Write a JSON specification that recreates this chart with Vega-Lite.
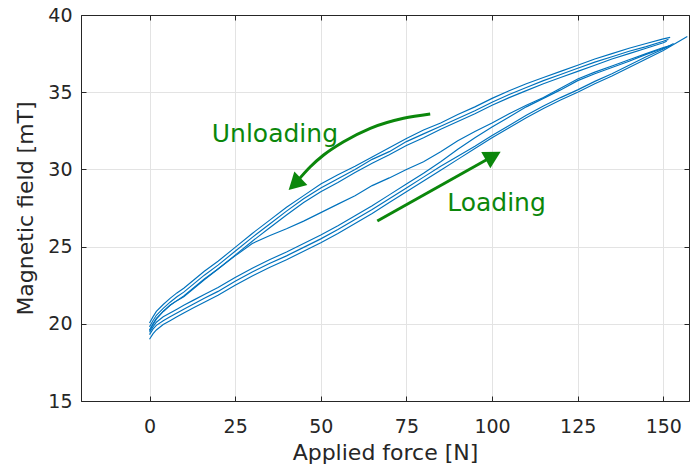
{
  "$schema": "https://vega.github.io/schema/vega-lite/v6.json",
  "width": 608,
  "height": 386,
  "autosize": "none",
  "padding": {"left": 81, "top": 15, "right": 2, "bottom": 69},
  "background": "white",
  "config": {
    "font": "DejaVu Sans",
    "view": {"stroke": "#262626", "strokeWidth": 1},
    "axis": {
      "labelFont": "DejaVu Sans",
      "titleFont": "DejaVu Sans",
      "labelFontSize": 19,
      "titleFontSize": 22,
      "titleFontWeight": "normal",
      "labelColor": "#262626",
      "titleColor": "#262626",
      "domainColor": "#262626",
      "tickColor": "#262626",
      "gridColor": "#e3e3e3",
      "tickSize": -5
    }
  },
  "datasets": {
    "curves": [
      {"s":"U1","F":0,"B":20.05},{"s":"U1","F":1,"B":20.45},{"s":"U1","F":2,"B":20.8},{"s":"U1","F":4,"B":21.25},{"s":"U1","F":6,"B":21.65},{"s":"U1","F":8,"B":22.0},{"s":"U1","F":10,"B":22.3},{"s":"U1","F":13,"B":22.85},{"s":"U1","F":16,"B":23.4},{"s":"U1","F":20,"B":24.05},{"s":"U1","F":25,"B":24.95},{"s":"U1","F":30,"B":25.85},{"s":"U1","F":35,"B":26.7},{"s":"U1","F":40,"B":27.55},{"s":"U1","F":45,"B":28.3},{"s":"U1","F":50,"B":29.05},{"s":"U1","F":55,"B":29.65},{"s":"U1","F":60,"B":30.2},{"s":"U1","F":65,"B":30.8},{"s":"U1","F":70,"B":31.4},{"s":"U1","F":75,"B":32.0},{"s":"U1","F":80,"B":32.55},{"s":"U1","F":85,"B":33.0},{"s":"U1","F":90,"B":33.55},{"s":"U1","F":95,"B":34.05},{"s":"U1","F":100,"B":34.6},{"s":"U1","F":105,"B":35.1},{"s":"U1","F":110,"B":35.55},{"s":"U1","F":115,"B":35.95},{"s":"U1","F":120,"B":36.35},{"s":"U1","F":125,"B":36.75},{"s":"U1","F":130,"B":37.15},{"s":"U1","F":135,"B":37.5},{"s":"U1","F":140,"B":37.85},{"s":"U1","F":145,"B":38.15},{"s":"U1","F":150,"B":38.45},{"s":"U1","F":152,"B":38.55},
      {"s":"U2","F":0,"B":19.8},{"s":"U2","F":1,"B":20.2},{"s":"U2","F":2,"B":20.55},{"s":"U2","F":4,"B":21.0},{"s":"U2","F":6,"B":21.4},{"s":"U2","F":8,"B":21.75},{"s":"U2","F":10,"B":22.05},{"s":"U2","F":13,"B":22.6},{"s":"U2","F":16,"B":23.15},{"s":"U2","F":20,"B":23.8},{"s":"U2","F":25,"B":24.7},{"s":"U2","F":30,"B":25.6},{"s":"U2","F":35,"B":26.45},{"s":"U2","F":40,"B":27.3},{"s":"U2","F":45,"B":28.1},{"s":"U2","F":50,"B":28.8},{"s":"U2","F":55,"B":29.4},{"s":"U2","F":60,"B":30.0},{"s":"U2","F":65,"B":30.65},{"s":"U2","F":70,"B":31.15},{"s":"U2","F":75,"B":31.8},{"s":"U2","F":80,"B":32.3},{"s":"U2","F":85,"B":32.8},{"s":"U2","F":90,"B":33.3},{"s":"U2","F":95,"B":33.8},{"s":"U2","F":100,"B":34.35},{"s":"U2","F":105,"B":34.85},{"s":"U2","F":110,"B":35.3},{"s":"U2","F":115,"B":35.75},{"s":"U2","F":120,"B":36.15},{"s":"U2","F":125,"B":36.55},{"s":"U2","F":130,"B":36.95},{"s":"U2","F":135,"B":37.3},{"s":"U2","F":140,"B":37.65},{"s":"U2","F":145,"B":37.95},{"s":"U2","F":150,"B":38.3},{"s":"U2","F":151.5,"B":38.42},
      {"s":"U3","F":0,"B":19.55},{"s":"U3","F":1,"B":19.95},{"s":"U3","F":2,"B":20.3},{"s":"U3","F":4,"B":20.8},{"s":"U3","F":6,"B":21.2},{"s":"U3","F":8,"B":21.5},{"s":"U3","F":10,"B":21.75},{"s":"U3","F":13,"B":22.3},{"s":"U3","F":16,"B":22.85},{"s":"U3","F":20,"B":23.55},{"s":"U3","F":25,"B":24.45},{"s":"U3","F":30,"B":25.35},{"s":"U3","F":35,"B":26.2},{"s":"U3","F":40,"B":27.05},{"s":"U3","F":45,"B":27.85},{"s":"U3","F":50,"B":28.55},{"s":"U3","F":55,"B":29.15},{"s":"U3","F":60,"B":29.8},{"s":"U3","F":65,"B":30.4},{"s":"U3","F":70,"B":30.95},{"s":"U3","F":75,"B":31.55},{"s":"U3","F":80,"B":32.05},{"s":"U3","F":85,"B":32.6},{"s":"U3","F":90,"B":33.1},{"s":"U3","F":95,"B":33.6},{"s":"U3","F":100,"B":34.15},{"s":"U3","F":105,"B":34.65},{"s":"U3","F":110,"B":35.1},{"s":"U3","F":115,"B":35.55},{"s":"U3","F":120,"B":35.95},{"s":"U3","F":125,"B":36.35},{"s":"U3","F":130,"B":36.75},{"s":"U3","F":135,"B":37.15},{"s":"U3","F":140,"B":37.5},{"s":"U3","F":145,"B":37.85},{"s":"U3","F":150,"B":38.2},{"s":"U3","F":151,"B":38.3},
      {"s":"M","F":0,"B":19.6},{"s":"M","F":1,"B":20.0},{"s":"M","F":2,"B":20.35},{"s":"M","F":4,"B":20.8},{"s":"M","F":6,"B":21.2},{"s":"M","F":8,"B":21.5},{"s":"M","F":10,"B":21.8},{"s":"M","F":13,"B":22.35},{"s":"M","F":16,"B":22.9},{"s":"M","F":20,"B":23.55},{"s":"M","F":25,"B":24.4},{"s":"M","F":30,"B":25.2},{"s":"M","F":35,"B":25.7},{"s":"M","F":40,"B":26.15},{"s":"M","F":45,"B":26.65},{"s":"M","F":50,"B":27.2},{"s":"M","F":55,"B":27.75},{"s":"M","F":60,"B":28.3},{"s":"M","F":65,"B":28.95},{"s":"M","F":70,"B":29.45},{"s":"M","F":75,"B":30.0},{"s":"M","F":80,"B":30.5},{"s":"M","F":85,"B":31.15},{"s":"M","F":90,"B":31.85},{"s":"M","F":95,"B":32.45},{"s":"M","F":100,"B":33.0},{"s":"M","F":105,"B":33.6},{"s":"M","F":110,"B":34.15},{"s":"M","F":115,"B":34.65},{"s":"M","F":120,"B":35.25},{"s":"M","F":125,"B":35.85},{"s":"M","F":130,"B":36.3},{"s":"M","F":135,"B":36.7},{"s":"M","F":140,"B":37.1},{"s":"M","F":145,"B":37.5},{"s":"M","F":150,"B":37.9},{"s":"M","F":152.5,"B":38.05},
      {"s":"L1","F":0,"B":19.0},{"s":"L1","F":1,"B":19.35},{"s":"L1","F":2,"B":19.6},{"s":"L1","F":4,"B":19.95},{"s":"L1","F":6,"B":20.2},{"s":"L1","F":8,"B":20.45},{"s":"L1","F":10,"B":20.7},{"s":"L1","F":13,"B":21.05},{"s":"L1","F":16,"B":21.4},{"s":"L1","F":20,"B":21.85},{"s":"L1","F":25,"B":22.5},{"s":"L1","F":30,"B":23.1},{"s":"L1","F":35,"B":23.65},{"s":"L1","F":40,"B":24.15},{"s":"L1","F":45,"B":24.7},{"s":"L1","F":50,"B":25.25},{"s":"L1","F":55,"B":25.85},{"s":"L1","F":60,"B":26.5},{"s":"L1","F":65,"B":27.15},{"s":"L1","F":70,"B":27.85},{"s":"L1","F":75,"B":28.55},{"s":"L1","F":80,"B":29.25},{"s":"L1","F":85,"B":29.95},{"s":"L1","F":90,"B":30.65},{"s":"L1","F":95,"B":31.35},{"s":"L1","F":100,"B":32.05},{"s":"L1","F":105,"B":32.7},{"s":"L1","F":110,"B":33.35},{"s":"L1","F":115,"B":33.95},{"s":"L1","F":120,"B":34.5},{"s":"L1","F":125,"B":35.0},{"s":"L1","F":130,"B":35.55},{"s":"L1","F":135,"B":36.05},{"s":"L1","F":140,"B":36.6},{"s":"L1","F":145,"B":37.15},{"s":"L1","F":150,"B":37.7},{"s":"L1","F":155,"B":38.35},{"s":"L1","F":157,"B":38.6},
      {"s":"L2","F":0,"B":19.3},{"s":"L2","F":1,"B":19.65},{"s":"L2","F":2,"B":19.9},{"s":"L2","F":4,"B":20.2},{"s":"L2","F":6,"B":20.45},{"s":"L2","F":8,"B":20.7},{"s":"L2","F":10,"B":20.95},{"s":"L2","F":13,"B":21.3},{"s":"L2","F":16,"B":21.65},{"s":"L2","F":20,"B":22.1},{"s":"L2","F":25,"B":22.75},{"s":"L2","F":30,"B":23.35},{"s":"L2","F":35,"B":23.9},{"s":"L2","F":40,"B":24.4},{"s":"L2","F":45,"B":24.95},{"s":"L2","F":50,"B":25.5},{"s":"L2","F":55,"B":26.1},{"s":"L2","F":60,"B":26.75},{"s":"L2","F":65,"B":27.4},{"s":"L2","F":70,"B":28.1},{"s":"L2","F":75,"B":28.8},{"s":"L2","F":80,"B":29.5},{"s":"L2","F":85,"B":30.2},{"s":"L2","F":90,"B":30.85},{"s":"L2","F":95,"B":31.5},{"s":"L2","F":100,"B":32.2},{"s":"L2","F":105,"B":32.85},{"s":"L2","F":110,"B":33.5},{"s":"L2","F":115,"B":34.1},{"s":"L2","F":120,"B":34.65},{"s":"L2","F":125,"B":35.15},{"s":"L2","F":130,"B":35.7},{"s":"L2","F":135,"B":36.2},{"s":"L2","F":140,"B":36.75},{"s":"L2","F":145,"B":37.3},{"s":"L2","F":150,"B":37.8},{"s":"L2","F":153,"B":38.15},
      {"s":"L3","F":0,"B":19.45},{"s":"L3","F":1,"B":19.8},{"s":"L3","F":2,"B":20.1},{"s":"L3","F":4,"B":20.45},{"s":"L3","F":6,"B":20.7},{"s":"L3","F":8,"B":20.95},{"s":"L3","F":10,"B":21.2},{"s":"L3","F":13,"B":21.55},{"s":"L3","F":16,"B":21.9},{"s":"L3","F":20,"B":22.35},{"s":"L3","F":25,"B":23.0},{"s":"L3","F":30,"B":23.6},{"s":"L3","F":35,"B":24.15},{"s":"L3","F":40,"B":24.65},{"s":"L3","F":45,"B":25.2},{"s":"L3","F":50,"B":25.75},{"s":"L3","F":55,"B":26.35},{"s":"L3","F":60,"B":27.0},{"s":"L3","F":65,"B":27.65},{"s":"L3","F":70,"B":28.35},{"s":"L3","F":75,"B":29.05},{"s":"L3","F":80,"B":29.75},{"s":"L3","F":85,"B":30.5},{"s":"L3","F":90,"B":31.3},{"s":"L3","F":95,"B":32.05},{"s":"L3","F":100,"B":32.75},{"s":"L3","F":105,"B":33.4},{"s":"L3","F":110,"B":34.05},{"s":"L3","F":115,"B":34.6},{"s":"L3","F":120,"B":35.15},{"s":"L3","F":125,"B":35.75},{"s":"L3","F":130,"B":36.2},{"s":"L3","F":135,"B":36.6},{"s":"L3","F":140,"B":37.0},{"s":"L3","F":145,"B":37.45},{"s":"L3","F":150,"B":37.85},{"s":"L3","F":152,"B":38.0}
    ],
    "arrows": [
      {"a":"load","F":66.5,"B":26.66},{"a":"load","F":100.35,"B":30.87},
      {"a":"unload","F":81.95,"B":33.59},{"a":"unload","F":74.16,"B":33.31},{"a":"unload","F":64.45,"B":32.66},{"a":"unload","F":56.66,"B":31.79},{"a":"unload","F":50.83,"B":30.93},{"a":"unload","F":46.95,"B":30.17},{"a":"unload","F":43.0,"B":29.2}
    ],
    "heads": [
      {"a":"load","F":100.35,"B":30.87},
      {"a":"unload","F":42.4,"B":29.05}
    ],
    "labels": [
      {"t":"Unloading","F":36.6,"B":31.79},
      {"t":"Loading","F":101.3,"B":27.31}
    ]
  },
  "layer": [
    {
      "data": {"name": "curves"},
      "mark": {"type": "line", "color": "#0072BD", "strokeWidth": 1.15, "clip": true},
      "encoding": {
        "x": {"field": "F", "type": "quantitative", "scale": {"domain": [-20, 157.5], "nice": false, "zero": false},
              "axis": {"orient": "bottom", "values": [0,25,50,75,100,125,150], "title": "Applied force [N]", "grid": true, "labelPadding": 21, "titlePadding": 6}},
        "y": {"field": "B", "type": "quantitative", "scale": {"domain": [15, 40], "nice": false, "zero": false},
              "axis": {"orient": "left", "values": [15,20,25,30,35,40], "title": "Magnetic field [mT]", "grid": true, "labelPadding": 14, "titlePadding": 10}},
        "detail": {"field": "s", "type": "nominal"}
      }
    },
    {
      "data": {"name": "arrows"},
      "mark": {"type": "line", "color": "#0b870b", "strokeWidth": 3, "interpolate": "monotone"},
      "encoding": {
        "x": {"field": "F", "type": "quantitative", "scale": {"domain": [-20, 157.5], "nice": false, "zero": false}, "axis": null},
        "y": {"field": "B", "type": "quantitative", "scale": {"domain": [15, 40], "nice": false, "zero": false}, "axis": null},
        "detail": {"field": "a", "type": "nominal"}
      }
    },
    {
      "data": {"name": "heads"},
      "transform": [{"filter": "datum.a == 'unload'"}],
      "mark": {"type": "point", "shape": "M0,-1L1.1,1L-1.1,1Z", "filled": true, "opacity": 1, "color": "#0b870b", "size": 289, "angle": 226},
      "encoding": {
        "x": {"field": "F", "type": "quantitative", "scale": {"domain": [-20, 157.5], "nice": false, "zero": false}, "axis": null},
        "y": {"field": "B", "type": "quantitative", "scale": {"domain": [15, 40], "nice": false, "zero": false}, "axis": null}
      }
    },
    {
      "data": {"name": "labels"},
      "mark": {"type": "text", "color": "#0b870b", "fontSize": 25, "font": "DejaVu Sans", "align": "center", "baseline": "alphabetic"},
      "encoding": {
        "x": {"field": "F", "type": "quantitative", "scale": {"domain": [-20, 157.5], "nice": false, "zero": false}, "axis": null},
        "y": {"field": "B", "type": "quantitative", "scale": {"domain": [15, 40], "nice": false, "zero": false}, "axis": null},
        "text": {"field": "t", "type": "nominal"}
      }
    },
    {
      "data": {"name": "heads"},
      "transform": [{"filter": "datum.a == 'load'"}],
      "mark": {"type": "point", "shape": "M0,-1L1.1,1L-1.1,1Z", "filled": true, "opacity": 1, "color": "#0b870b", "size": 289, "angle": 61},
      "encoding": {
        "x": {"field": "F", "type": "quantitative", "scale": {"domain": [-20, 157.5], "nice": false, "zero": false},
              "axis": {"orient": "top", "values": [0,25,50,75,100,125,150], "labels": false, "title": null, "grid": false, "domain": true}},
        "y": {"field": "B", "type": "quantitative", "scale": {"domain": [15, 40], "nice": false, "zero": false},
              "axis": {"orient": "right", "values": [15,20,25,30,35,40], "labels": false, "title": null, "grid": false, "domain": true}}
      }
    }
  ],
  "resolve": {"axis": {"x": "independent", "y": "independent"}}
}
